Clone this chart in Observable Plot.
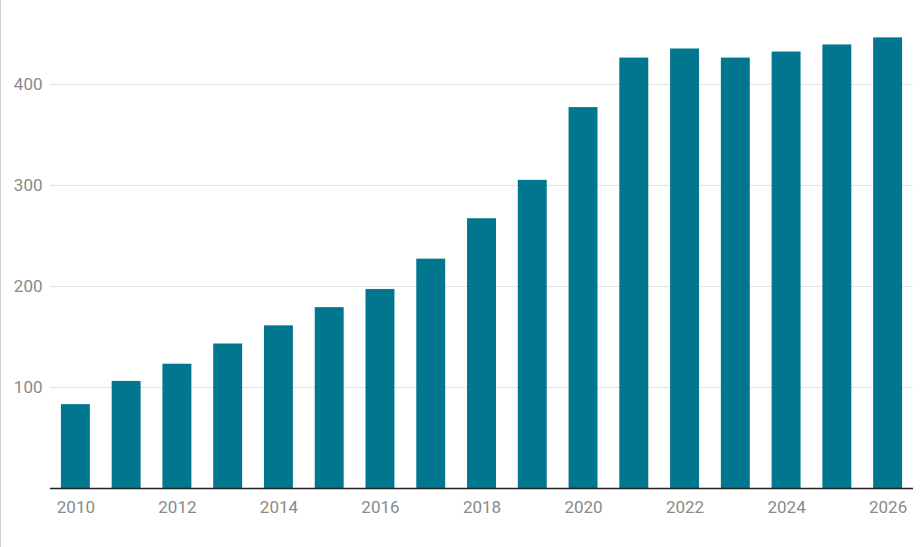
<!DOCTYPE html>
<html>
<head>
<meta charset="utf-8">
<script src="https://cdn.jsdelivr.net/npm/d3@7"></script>
<script src="https://cdn.jsdelivr.net/npm/@observablehq/plot@0.6"></script>
<style>
  html, body { margin: 0; padding: 0; background: #fff; }
  #wrap { position: relative; width: 924px; height: 547px; }
  #edge { position: absolute; left: 0; top: 0; width: 1px; height: 547px; background: #d0d0d0; }
</style>
</head>
<body>
<div id="wrap"><div id="edge"></div></div>
<script>
const years = [2010, 2011, 2012, 2013, 2014, 2015, 2016, 2017, 2018, 2019, 2020, 2021, 2022, 2023, 2024, 2025, 2026];
const values = [83, 106, 123, 143, 161, 179, 197, 227, 267, 305, 377, 426, 435, 426, 432, 439, 446];
const yTicks = [100, 200, 300, 400];
const xTickLabels = [2010, 2012, 2014, 2016, 2018, 2020, 2022, 2024, 2026];

const data = years.map((y, i) => ({year: y, value: values[i]}));

const chart = Plot.plot({
  width: 924,
  height: 547,
  marginLeft: 50,
  marginRight: 11,
  marginTop: 0,
  marginBottom: 59,
  style: {fontFamily: "Roboto, sans-serif", fontSize: "17px", color: "#8a8a8a", background: "transparent"},
  x: {type: "band", domain: years, paddingInner: 0.43, paddingOuter: 0.215, round: false, label: null},
  y: {domain: [0, 483], label: null},
  marks: [
    Plot.gridY(yTicks, {stroke: "#e0e0e0", strokeOpacity: 1, strokeWidth: 1}),
    Plot.barY(data, {x: "year", y: "value", fill: "#00768f"}),
    Plot.ruleY([0], {stroke: "#222", strokeWidth: 1.3}),
    Plot.axisY(yTicks, {tickSize: 0, tickPadding: 8, fill: "#8a8a8a", fontSize: 17, label: null}),
    Plot.axisX(xTickLabels, {tickSize: 0, tickPadding: 12, fill: "#8a8a8a", fontSize: 17, label: null, tickFormat: d => String(d)})
  ]
});
document.getElementById("wrap").appendChild(chart);
</script>
</body>
</html>
